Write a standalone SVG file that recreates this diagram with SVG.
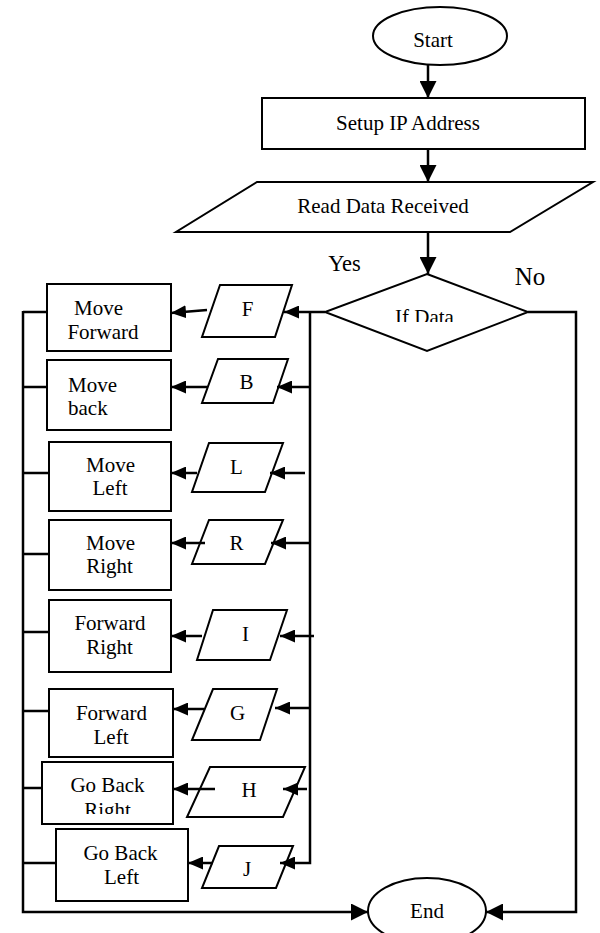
<svg xmlns="http://www.w3.org/2000/svg" width="600" height="933" viewBox="0 0 600 933">
<defs>
<style>
.s{fill:#fff;stroke:#000;stroke-width:2}
.c{fill:none;stroke:#000;stroke-width:2.5}
.t{font-family:"Liberation Serif","Times New Roman",serif;font-size:21px;fill:#000;text-anchor:middle}
.st{text-anchor:start}
.l{font-family:"Liberation Serif","Times New Roman",serif;fill:#000;text-anchor:middle}
</style>
<marker id="ab" markerUnits="userSpaceOnUse" markerWidth="17" markerHeight="17" refX="17" refY="8.5" orient="auto"><path d="M0,0 L17,8.5 L0,17 z" fill="#000"/></marker>
<marker id="as" markerUnits="userSpaceOnUse" markerWidth="15" markerHeight="13" refX="15" refY="6.5" orient="auto"><path d="M0,0 L15,6.5 L0,13 z" fill="#000"/></marker>
<clipPath id="cd"><rect x="300" y="290" width="250" height="32"/></clipPath>
<clipPath id="ch"><rect x="40" y="760" width="140" height="54"/></clipPath>
</defs>
<rect width="600" height="933" fill="#fff"/>
<g id="start"><ellipse class="s" cx="440" cy="36" rx="67" ry="29"/><text class="t" x="433" y="47">Start</text></g>
<g id="setup"><rect class="s" x="262" y="98" width="323" height="51"/><text class="t" x="408" y="130">Setup IP Address</text></g>
<g id="read"><polygon class="s" points="257,182 593,182 510,232 176,232"/><text class="t" x="383" y="213">Read Data Received</text></g>
<g id="decision"><polygon class="s" points="427,274 528,312 427,351 325,312"/><text class="t" x="424.5" y="324" clip-path="url(#cd)">If Data</text></g>
<text class="l" x="344.5" y="271" font-size="22.5">Yes</text>
<text class="l" x="530" y="285" font-size="25">No</text>
<g id="in-f"><polygon class="s" points="220,285 292,285 275,337 202,337"/><text class="t" x="247.5" y="316">F</text></g>
<g id="in-b"><polygon class="s" points="218,359 288,359 273,403 202,403"/><text class="t" x="246.5" y="389">B</text></g>
<g id="in-l"><polygon class="s" points="209,443 283,443 265,492 192,492"/><text class="t" x="236.5" y="474">L</text></g>
<g id="in-r"><polygon class="s" points="209,520 283,520 265,564 192,564"/><text class="t" x="236.5" y="550">R</text></g>
<g id="in-i"><polygon class="s" points="213,610 287,610 270,660 197,660"/><text class="t" x="245.5" y="641">I</text></g>
<g id="in-g"><polygon class="s" points="213,689 277,689 260,740 192,740"/><text class="t" x="237.5" y="720">G</text></g>
<g id="in-h"><polygon class="s" points="210,767 305,767 283,817 187,817"/><text class="t" x="249" y="797">H</text></g>
<g id="in-j"><polygon class="s" points="219,846 293,846 276,888 202,888"/><text class="t" x="247" y="876">J</text></g>
<g id="move-forward"><rect class="s" x="47" y="284" width="124" height="67"/><text class="t" x="98.5" y="315">Move</text><text class="t" x="103" y="339">Forward</text></g>
<g id="move-back"><rect class="s" x="47" y="360" width="124" height="70"/><text class="t st" x="68" y="392">Move</text><text class="t st" x="68" y="415">back</text></g>
<g id="move-left"><rect class="s" x="49" y="442" width="122" height="69"/><text class="t" x="110.5" y="472">Move</text><text class="t" x="110" y="495">Left</text></g>
<g id="move-right"><rect class="s" x="49" y="520" width="122" height="70"/><text class="t" x="110.5" y="550">Move</text><text class="t" x="109.5" y="573">Right</text></g>
<g id="forward-right"><rect class="s" x="49" y="600" width="122" height="72"/><text class="t" x="110" y="630">Forward</text><text class="t" x="109.5" y="654">Right</text></g>
<g id="forward-left"><rect class="s" x="49" y="689" width="124" height="68"/><text class="t" x="111.5" y="720">Forward</text><text class="t" x="111" y="744">Left</text></g>
<g id="go-back-right"><rect class="s" x="42" y="762" width="131" height="62"/><text class="t" x="107.5" y="792">Go Back</text><text class="t" x="107.5" y="817" clip-path="url(#ch)">Right</text></g>
<g id="go-back-left"><rect class="s" x="56" y="829" width="132" height="72"/><text class="t" x="120.5" y="860">Go Back</text><text class="t" x="121.5" y="884">Left</text></g>
<g id="end"><ellipse class="s" cx="427" cy="911" rx="59" ry="33"/><text class="t" x="427" y="918">End</text></g>
<g id="connectors">
<path class="c" d="M428,65 V98" marker-end="url(#ab)"/>
<path class="c" d="M428,149 V182" marker-end="url(#ab)"/>
<path class="c" d="M428,232 V274" marker-end="url(#ab)"/>
<path class="c" d="M325,312 H284" marker-end="url(#as)"/>
<path class="c" d="M310,312 V863 H280" marker-end="url(#as)"/>
<path class="c" d="M310,387 H277" marker-end="url(#as)"/>
<path class="c" d="M305,473 H270" marker-end="url(#as)"/>
<path class="c" d="M310,543 H271" marker-end="url(#as)"/>
<path class="c" d="M314,636 H280" marker-end="url(#as)"/>
<path class="c" d="M310,708 H275" marker-end="url(#as)"/>
<path class="c" d="M307,789 H283" marker-end="url(#as)"/>
<path class="c" d="M528,312 H576 V912 H486" marker-end="url(#ab)"/>
<path class="c" d="M47,312 H23 M47,387 H23 M49,473 H23 M49,554 H22 M49,632 H22 M49,711 H23 M42,788 H23 M56,863 H22"/>
<path class="c" d="M23,311 V912 H368" marker-end="url(#ab)"/>
<path class="c" d="M207,310 L171,313" marker-end="url(#as)"/>
<path class="c" d="M208,387 H171" marker-end="url(#as)"/>
<path class="c" d="M197,473 H171" marker-end="url(#as)"/>
<path class="c" d="M205,543 H171" marker-end="url(#as)"/>
<path class="c" d="M202,636 H171" marker-end="url(#as)"/>
<path class="c" d="M204,709 H173" marker-end="url(#as)"/>
<path class="c" d="M215,789 H173" marker-end="url(#as)"/>
<path class="c" d="M213,863 H188" marker-end="url(#as)"/>
</g>
</svg>
